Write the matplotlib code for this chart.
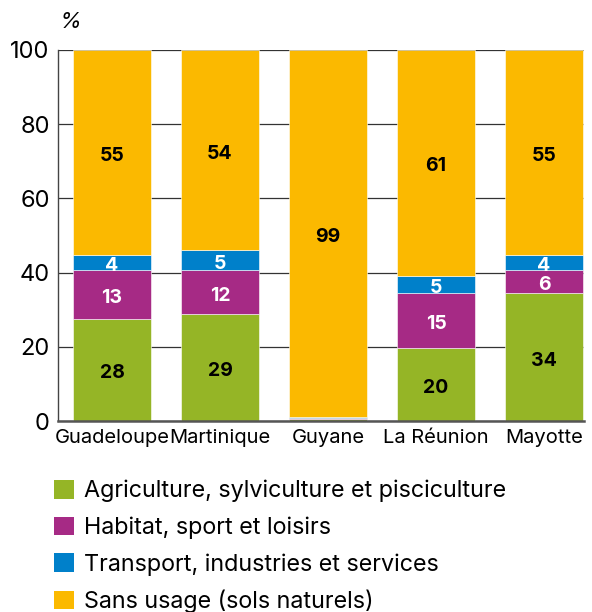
import matplotlib
matplotlib.use("Agg")
import matplotlib.pyplot as plt
from matplotlib.patches import Patch
import numpy as np

categories = ["Guadeloupe", "Martinique", "Guyane", "La Réunion", "Mayotte"]
series_names = ["Agriculture, sylviculture et pisciculture",
                "Habitat, sport et loisirs",
                "Transport, industries et services",
                "Sans usage (sols naturels)"]
agriculture = [27.6, 28.8, 0.5, 19.6, 34.4]
habitat = [13.0, 11.8, 0.2, 14.8, 6.4]
transport = [4.1, 5.4, 0.3, 4.8, 3.9]
sans_usage = [55.3, 54.0, 99.0, 60.8, 55.3]
yticks = [0, 20, 40, 60, 80, 100]

colors = ["#95b526", "#a62a85", "#0080ca", "#fbb900"]
label_colors = ["black", "white", "white", "black"]

plt.rcParams['font.family'] = ['Inter', 'DejaVu Sans']

fig = plt.figure(figsize=(5.92, 6.12), dpi=100)
ax = fig.add_axes([58/592, 1-421/612, (584-58)/592, (421-50)/612])

x = np.arange(len(categories))
data = [agriculture, habitat, transport, sans_usage]
bottom = np.zeros(len(categories))
for vals, col, lcol in zip(data, colors, label_colors):
    vals = np.array(vals)
    ax.bar(x, vals, width=0.72, bottom=bottom, color=col,
           edgecolor="white", linewidth=0.4, zorder=3)
    for xi, b, v in zip(x, bottom, vals):
        if v >= 3:
            ax.annotate(f"{round(v)}", xy=(xi, b + v/2), xytext=(0, -2.5),
                        textcoords="offset points", ha="center", va="center",
                        color=lcol, fontsize=14, fontweight="bold", zorder=4)
    bottom += vals

ax.set_xlim(-0.5, 4.37)
ax.set_ylim(0, 100)
ax.set_yticks(yticks)
ax.set_yticklabels([str(t) for t in yticks], fontsize=17)
ax.set_xticks(x)
ax.set_xticklabels(categories, fontsize=14.5)
ax.tick_params(axis="y", length=0, pad=6)
ax.tick_params(axis="x", length=0, pad=6)
ax.yaxis.grid(True, color="#333333", linewidth=0.9, zorder=0)
ax.set_axisbelow(True)
for s in ["top", "right"]:
    ax.spines[s].set_visible(False)
ax.spines["left"].set_color("#444444")
ax.spines["left"].set_linewidth(1.0)
ax.spines["bottom"].set_color("#555555")
ax.spines["bottom"].set_linewidth(1.8)
ax.spines["bottom"].set_zorder(5)

fig.text(60/592, 1-22/612, "%", fontsize=16, ha="left", va="center", style="italic")

handles = [Patch(facecolor=c, edgecolor="none") for c in colors]
fig.legend(handles, series_names, loc="upper left", bbox_to_anchor=(54/592, 1-480/612),
           frameon=False, fontsize=16.8, handlelength=0.85, handleheight=0.85,
           handletextpad=0.45, labelspacing=0.6, borderaxespad=0, borderpad=0)

fig.savefig("out.png", dpi=100)
